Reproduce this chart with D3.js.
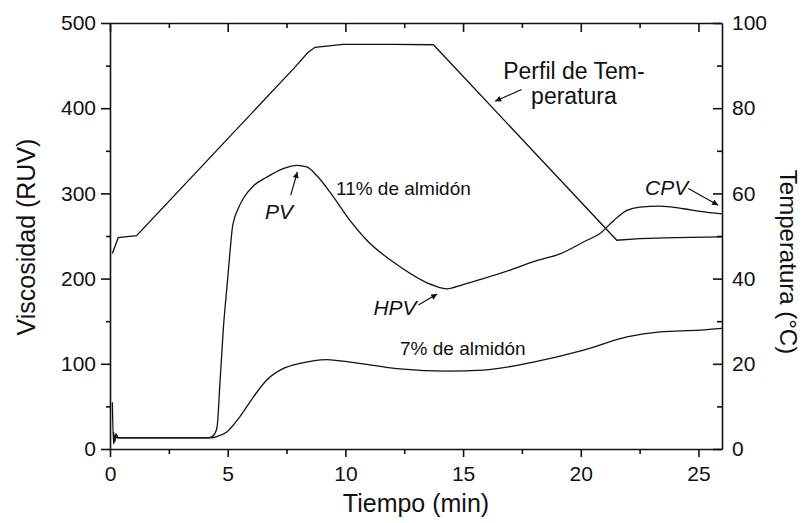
<!DOCTYPE html>
<html>
<head>
<meta charset="utf-8">
<script src="https://cdn.jsdelivr.net/npm/d3@7"></script>
<style>
  body { margin: 0; background: #fff; }
  text { font-family: "Liberation Sans", Arial, sans-serif; fill: #111; }
</style>
</head>
<body>
<div id="chart"></div>
<script>
/* global d3 */

// Temperature profile (°C, right axis)
const tempTime = [0.1, 0.35, 1.13, 7.8, 8.4, 8.71, 9.9, 12.0, 13.74, 21.53, 22.5, 24.0, 26.0]
const tempVal  = [45.9, 49.6, 50.1, 89.3, 93.0, 94.3, 95.0, 95.0, 94.9, 49.0, 49.4, 49.6, 49.8]

// 11% starch viscosity (RUV)
const time11 = [0.1, 0.15, 0.2, 0.3, 1, 2, 3, 4, 4.3, 4.45, 4.55, 4.67, 4.82, 5.0, 5.1, 5.2, 5.3,
                5.41, 5.66, 6.1, 6.66, 7.36, 7.93, 8.36, 8.78, 9.49, 10.2, 10.91, 12.32, 13.74,
                14.31, 15.0, 15.86, 17.0, 18.0, 19.12, 20.26, 20.82, 21.39, 21.96, 22.5, 23.37,
                24.36, 25.07, 26.0]
const visc11 = [55, 6, 16, 13, 13, 13, 13, 13, 14, 18, 26, 77, 143, 200, 232, 260, 272,
                280, 294, 309, 319, 329, 333, 331, 321, 296, 268, 245, 214, 192,
                188, 193, 200, 210, 220, 229, 245, 253, 268, 280, 284, 285,
                282, 279, 276]

// 7% starch viscosity (RUV)
const time7 = [0.15, 0.2, 0.25, 0.35, 1, 2, 3, 4, 4.3, 4.53, 4.96, 5.52, 6.09, 6.66, 7.37, 8.07,
               9.2, 10.2, 12.32, 14.31, 15.86, 17.99, 20.12, 21.96, 23.37, 25.07, 26.0]
const visc7 = [20, 8, 18, 13, 13, 13, 13, 13, 13, 14.4, 20, 38, 61, 81, 94.6, 100.5,
               105, 102, 94, 91.4, 92.6, 102, 116, 131.6, 137.5, 139.5, 141.5]

// Ticks
const xMajor = [0, 5, 10, 15, 20, 25]
const xMinor = [2.5, 7.5, 12.5, 17.5, 22.5]
const vMajor = [0, 100, 200, 300, 400, 500]
const vMinor = [50, 150, 250, 350, 450]
const tMajor = [0, 20, 40, 60, 80, 100]
const tMinor = [10, 30, 50, 70, 90]

// Annotations (time, viscosity)
const labels = [
  { text: '11% de almidón', t: 9.6, v: 298, size: 19 },
  { text: '7% de almidón', t: 12.32, v: 110.3, size: 19 },
  { text: 'PV', t: 6.58, v: 270.5, size: 21, italic: true },
  { text: 'HPV', t: 11.19, v: 157, size: 21, italic: true },
  { text: 'CPV', t: 22.73, v: 298, size: 21, italic: true },
  { text: 'Perfil de Tem-', t: 19.71, v: 434.8, size: 23, anchor: 'middle' },
  { text: 'peratura', t: 19.71, v: 405.5, size: 23, anchor: 'middle' }
]
const arrows = [
  { t1: 7.68, v1: 297.9, t2: 7.96, v2: 325.2 },
  { t1: 13.1, v1: 168.9, t2: 13.9, v2: 181.8 },
  { t1: 24.57, v1: 305.8, t2: 25.84, v2: 286.2 },
  { t1: 17.49, v1: 421.9, t2: 16.36, v2: 408.2 }
]

const width = 803, height = 523
const margin = { top: 23, right: 81, bottom: 74, left: 110 }

const svg = d3.select('#chart')
  .append('svg')
  .attr('width', width)
  .attr('height', height)

const x = d3.scaleLinear().domain([0, 26]).range([margin.left, width - margin.right])
const yV = d3.scaleLinear().domain([0, 500]).range([height - margin.bottom, margin.top])
const yT = d3.scaleLinear().domain([0, 100]).range([height - margin.bottom, margin.top])

svg.append('defs').append('marker')
  .attr('id', 'head')
  .attr('viewBox', '0 0 10 10')
  .attr('refX', 10).attr('refY', 5)
  .attr('markerWidth', 8).attr('markerHeight', 6)
  .attr('markerUnits', 'userSpaceOnUse')
  .attr('orient', 'auto')
  .append('path')
  .attr('d', 'M0,0L10,5L0,10z')
  .attr('fill', '#111')

// axes
const styleAxis = g => {
  g.selectAll('path, line').attr('stroke', '#111').attr('stroke-width', 1.6)
  g.selectAll('text').style('font-size', '21px').attr('fill', '#111')
    .style('font-family', '"Liberation Sans", Arial, sans-serif')
}

const bottom = height - margin.bottom
const right = width - margin.right

svg.append('g').attr('transform', `translate(0,${bottom})`)
  .call(d3.axisBottom(x).tickValues(xMajor).tickSize(8).tickPadding(9).tickSizeOuter(0))
  .call(styleAxis)
svg.append('g').attr('transform', `translate(0,${bottom})`)
  .call(d3.axisBottom(x).tickValues(xMinor).tickSize(5).tickFormat(''))
  .call(g => g.select('.domain').remove())
  .call(styleAxis)

svg.append('g').attr('transform', `translate(0,${margin.top})`)
  .call(d3.axisTop(x).tickValues(xMajor).tickSize(-9).tickFormat('').tickSizeOuter(0))
  .call(styleAxis)
svg.append('g').attr('transform', `translate(0,${margin.top})`)
  .call(d3.axisTop(x).tickValues(xMinor).tickSize(-5).tickFormat(''))
  .call(g => g.select('.domain').remove())
  .call(styleAxis)

svg.append('g').attr('transform', `translate(${margin.left},0)`)
  .call(d3.axisLeft(yV).tickValues(vMajor).tickSize(9).tickPadding(5).tickSizeOuter(0))
  .call(styleAxis)
svg.append('g').attr('transform', `translate(${margin.left},0)`)
  .call(d3.axisLeft(yV).tickValues(vMinor).tickSize(4).tickFormat(''))
  .call(g => g.select('.domain').remove())
  .call(styleAxis)

svg.append('g').attr('transform', `translate(${right},0)`)
  .call(d3.axisRight(yT).tickValues(tMajor).tickSize(-9).tickPadding(10).tickSizeOuter(0))
  .call(styleAxis)
svg.append('g').attr('transform', `translate(${right},0)`)
  .call(d3.axisRight(yT).tickValues(tMinor).tickSize(-5).tickFormat(''))
  .call(g => g.select('.domain').remove())
  .call(styleAxis)

// axis titles
svg.append('text')
  .attr('x', (margin.left + right) / 2).attr('y', 512)
  .attr('text-anchor', 'middle').style('font-size', '25px')
  .text('Tiempo (min)')

svg.append('text')
  .attr('transform', `translate(35,${237}) rotate(-90)`)
  .attr('text-anchor', 'middle').style('font-size', '25px')
  .text('Viscosidad (RUV)')

svg.append('text')
  .attr('transform', `translate(780,${262}) rotate(90)`)
  .attr('text-anchor', 'middle').style('font-size', '24px')
  .text('Temperatura (°C)')

// curves
const lineV = d3.line().x(d => x(d[0])).y(d => yV(d[1])).curve(d3.curveMonotoneX)
const lineT = d3.line().x(d => x(d[0])).y(d => yT(d[1]))

svg.append('path').datum(d3.zip(tempTime, tempVal))
  .attr('d', lineT).attr('fill', 'none').attr('stroke', '#111').attr('stroke-width', 1.3)
svg.append('path').datum(d3.zip(time11, visc11))
  .attr('d', lineV).attr('fill', 'none').attr('stroke', '#111').attr('stroke-width', 1.3)
svg.append('path').datum(d3.zip(time7, visc7))
  .attr('d', lineV).attr('fill', 'none').attr('stroke', '#111').attr('stroke-width', 1.3)

// annotations
svg.selectAll('.lab')
  .data(labels)
  .enter()
  .append('text')
  .attr('class', 'lab')
  .attr('x', d => x(d.t))
  .attr('y', d => yV(d.v))
  .attr('text-anchor', d => d.anchor || 'start')
  .style('font-size', d => d.size + 'px')
  .style('font-style', d => d.italic ? 'italic' : 'normal')
  .text(d => d.text)

svg.selectAll('.arr')
  .data(arrows)
  .enter()
  .append('line')
  .attr('class', 'arr')
  .attr('x1', d => x(d.t1)).attr('y1', d => yV(d.v1))
  .attr('x2', d => x(d.t2)).attr('y2', d => yV(d.v2))
  .attr('stroke', '#111').attr('stroke-width', 1.2)
  .attr('marker-end', 'url(#head)')
</script>
</body>
</html>
